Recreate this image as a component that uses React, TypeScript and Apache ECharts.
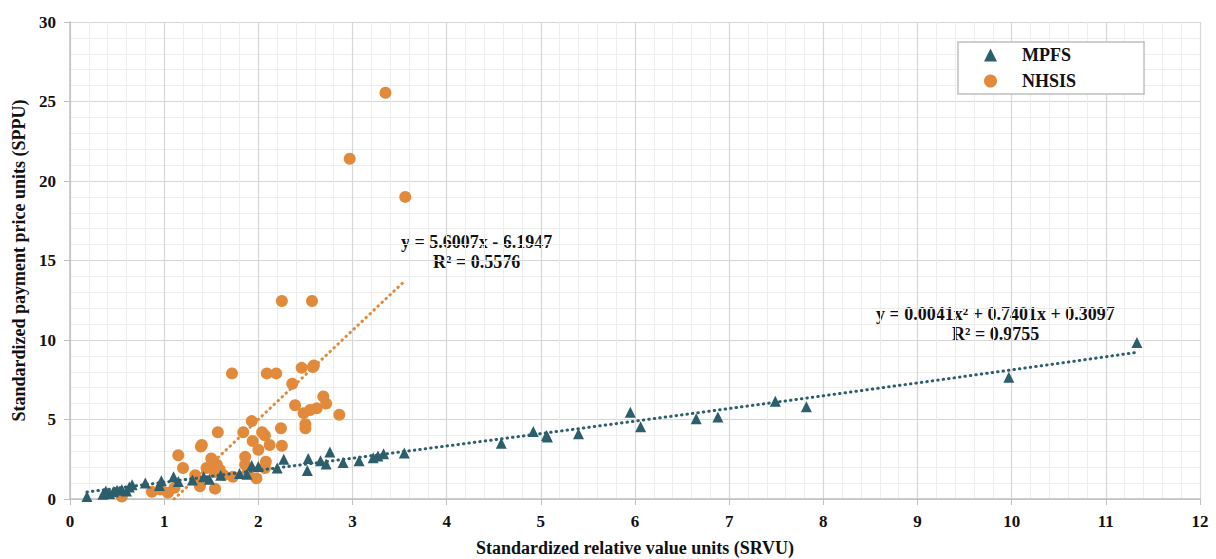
import React, { useEffect, useRef } from "react";
import * as echarts from "echarts";

const mpfsData: number[][] = [
  [0.18, 0.15], [0.35, 0.3], [0.38, 0.5], [0.42, 0.35], [0.46, 0.45], [0.5, 0.55], [0.55, 0.6],
  [0.6, 0.5], [0.63, 0.75], [0.66, 0.9], [0.8, 1.0], [0.95, 0.85], [0.97, 1.15], [1.1, 1.4],
  [1.15, 1.1], [1.3, 1.2], [1.42, 1.4], [1.48, 1.25], [1.6, 1.5], [1.8, 1.6], [1.88, 1.55],
  [1.93, 2.1], [2.0, 2.05], [2.2, 1.95], [2.27, 2.5], [2.52, 1.8], [2.53, 2.55], [2.66, 2.4],
  [2.72, 2.2], [2.76, 2.95], [2.9, 2.3], [3.07, 2.4], [3.22, 2.6], [3.27, 2.7], [3.33, 2.85],
  [3.55, 2.9], [4.58, 3.5], [4.92, 4.25], [5.07, 3.9], [5.06, 4.0], [5.4, 4.1], [5.95, 5.45],
  [6.06, 4.55], [6.65, 5.05], [6.88, 5.15], [7.49, 6.15], [7.82, 5.8], [9.97, 7.65], [11.33, 9.85],
];

const nhsisData: number[][] = [
  [0.55, 0.15], [0.87, 0.45], [0.96, 0.6], [1.04, 0.4], [1.11, 0.7], [1.15, 2.75], [1.2, 1.95],
  [1.33, 1.5], [1.38, 0.8], [1.4, 3.4], [1.39, 3.3], [1.33, 1.2], [1.45, 1.95], [1.5, 2.55],
  [1.54, 0.65], [1.54, 1.7], [1.56, 2.15], [1.57, 4.2], [1.59, 1.85], [1.63, 1.5], [1.72, 7.9],
  [1.73, 1.4], [1.84, 4.2], [1.86, 2.65], [1.86, 2.15], [1.89, 1.7], [1.93, 4.9], [1.94, 3.65],
  [1.98, 1.3], [2.0, 3.1], [2.04, 4.2], [2.07, 4.0], [2.07, 1.95], [2.08, 2.35], [2.09, 7.9],
  [2.12, 3.4], [2.19, 7.9], [2.24, 4.45], [2.25, 3.35], [2.25, 12.45], [2.36, 7.25], [2.39, 5.9],
  [2.46, 8.25], [2.48, 5.4], [2.5, 4.45], [2.5, 4.7], [2.55, 5.6], [2.57, 12.45], [2.58, 8.3],
  [2.59, 8.4], [2.62, 5.7], [2.69, 6.45], [2.72, 6.0], [2.86, 5.3], [2.97, 21.4], [3.35, 25.55],
  [3.56, 19.0],
];

// Trendline equations as printed on the chart
const mpfsCoef = { a: 0.0041, b: 0.7401, c: 0.3097 };
const nhsisCoef = { m: 5.6007, k: -6.1947 };
const mpfsTrendRange = [0.18, 11.33];
const nhsisTrendRange = [1.106, 3.56];

const xTicks = [0, 1, 2, 3, 4, 5, 6, 7, 8, 9, 10, 11, 12];
const yTicks = [0, 5, 10, 15, 20, 25, 30];

const TEAL = "#2d5e6c";
const ORANGE = "#e28a3b";
const FONT = "'Liberation Serif', 'Times New Roman', serif";

export default function App() {
  const ref = useRef<HTMLDivElement>(null);
  useEffect(() => {
    if (!ref.current) return;
    const chart = echarts.init(ref.current, null, { renderer: "svg" });

    const mpfsTrend: number[][] = [];
    const steps = 60;
    for (let i = 0; i <= steps; i++) {
      const x = mpfsTrendRange[0] + ((mpfsTrendRange[1] - mpfsTrendRange[0]) * i) / steps;
      mpfsTrend.push([x, mpfsCoef.a * x * x + mpfsCoef.b * x + mpfsCoef.c]);
    }
    const nhsisTrend = nhsisTrendRange.map((x) => [x, nhsisCoef.m * x + nhsisCoef.k]);

    const axisLabel = { color: "#111", fontFamily: FONT, fontWeight: "bold", fontSize: 17, margin: 14 };
    const eqStyle = (text: string) => ({
      text,
      fill: "#111",
      font: `bold 18px ${FONT}`,
      textVerticalAlign: "middle",
    });
    chart.setOption({
      animation: false,
      backgroundColor: "#fff",
      grid: { left: 70, right: 16, top: 22, bottom: 60, containLabel: false, outerBoundsMode: "none" },
      xAxis: {
        type: "value",
        min: xTicks[0],
        max: xTicks[xTicks.length - 1],
        interval: 1,
        name: "Standardized relative value units (SRVU)",
        nameLocation: "middle",
        nameGap: 40,
        nameTextStyle: { color: "#111", fontFamily: FONT, fontWeight: "bold", fontSize: 18 },
        axisLine: { show: true, lineStyle: { color: "#bfbfbf", width: 1.5 } },
        axisTick: { show: true, length: 6, lineStyle: { color: "#bfbfbf" } },
        axisLabel,
        splitLine: { show: true, lineStyle: { color: "#d6d6d6", width: 1.2 } },
        minorTick: { show: false, splitNumber: 5 },
        minorSplitLine: { show: true, lineStyle: { color: "#ededed", width: 1 } },
      },
      yAxis: {
        type: "value",
        min: yTicks[0],
        max: yTicks[yTicks.length - 1],
        interval: 5,
        name: "Standardized payment price units (SPPU)",
        nameLocation: "middle",
        nameGap: 38,
        nameTextStyle: { color: "#111", fontFamily: FONT, fontWeight: "bold", fontSize: 18 },
        axisLine: { show: true, lineStyle: { color: "#bfbfbf", width: 1.5 } },
        axisTick: { show: true, length: 6, lineStyle: { color: "#bfbfbf" } },
        axisLabel,
        splitLine: { show: true, lineStyle: { color: "#d6d6d6", width: 1.2 } },
        minorTick: { show: false, splitNumber: 5 },
        minorSplitLine: { show: true, lineStyle: { color: "#ededed", width: 1 } },
      },
      legend: {
        orient: "vertical",
        left: 958,
        top: 42,
        padding: [4, 68, 4, 26],
        itemGap: 8,
        itemWidth: 13,
        itemHeight: 13,
        backgroundColor: "#fff",
        borderColor: "#bfbfbf",
        borderWidth: 1.5,
        textStyle: { color: "#111", fontFamily: FONT, fontWeight: "bold", fontSize: 18, padding: [0, 0, 0, 20] },
        data: [
          { name: "MPFS", icon: "triangle" },
          { name: "NHSIS", icon: "circle" },
        ],
      },
      graphic: [
        { type: "text", x: 401, y: 242, style: eqStyle("y = 5.6007x - 6.1947") },
        { type: "text", x: 433, y: 262, style: eqStyle("R² = 0.5576") },
        { type: "text", x: 876, y: 314, style: eqStyle("y = 0.0041x² + 0.7401x + 0.3097") },
        { type: "text", x: 952, y: 334, style: eqStyle("R² = 0.9755") },
      ],
      series: [
        {
          name: "NHSIS trend",
          type: "line",
          data: nhsisTrend,
          showSymbol: false,
          silent: true,
          z: 3,
          lineStyle: { color: ORANGE, width: 3, type: [0.5, 5], cap: "round" },
        },
        {
          name: "MPFS trend",
          type: "line",
          data: mpfsTrend,
          showSymbol: false,
          silent: true,
          z: 3,
          lineStyle: { color: TEAL, width: 3, type: [0.5, 5], cap: "round" },
        },
        {
          name: "NHSIS",
          type: "scatter",
          data: nhsisData,
          symbol: "circle",
          symbolSize: 12,
          itemStyle: { color: ORANGE, opacity: 1 },
          z: 2,
        },
        {
          name: "MPFS",
          type: "scatter",
          data: mpfsData,
          symbol: "triangle",
          symbolSize: 11,
          itemStyle: { color: TEAL, opacity: 1 },
          z: 4,
        },
      ],
    });
    return () => chart.dispose();
  }, []);
  return (
    <div
      ref={ref}
      style={{ position: "fixed", left: 0, top: 0, width: 1216, height: 559, background: "#fff" }}
    />
  );
}
